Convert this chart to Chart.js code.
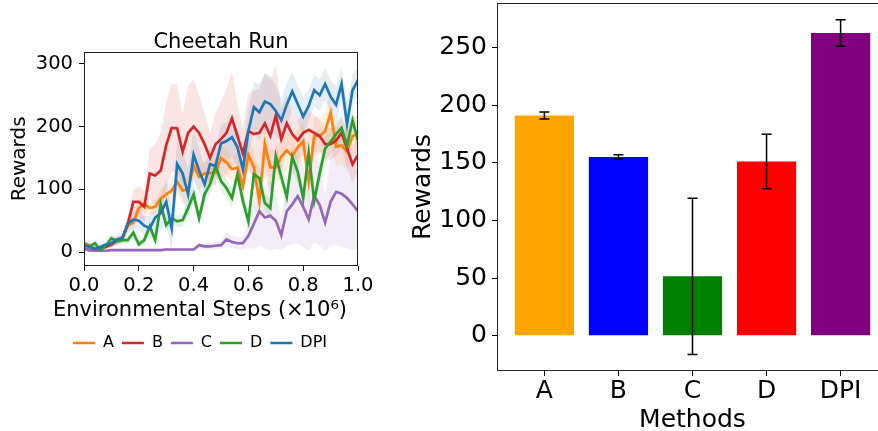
<!DOCTYPE html>
<html>
<head>
<meta charset="utf-8">
<script src="https://cdn.jsdelivr.net/npm/chart.js@4.4.1/dist/chart.umd.min.js"></script>
<style>
  html, body { margin: 0; padding: 0; background: #fff; overflow: hidden; width: 878px; height: 431px; }
  #curve { position: absolute; left: 0; top: 0; }
  #bars { position: absolute; left: 400px; top: 0; }
</style>
</head>
<body>
<canvas id="curve" width="400" height="431"></canvas>
<canvas id="bars" width="500" height="440"></canvas>
<script>
// ---- left panel: learning curves (Cheetah Run) ----
const steps = [0.00, 0.02, 0.04, 0.06, 0.08, 0.10, 0.12, 0.14, 0.16, 0.18, 0.20, 0.22, 0.24, 0.26, 0.28, 0.30, 0.32,
  0.34, 0.36, 0.38, 0.40, 0.42, 0.44, 0.46, 0.48, 0.50, 0.52, 0.54, 0.56, 0.58, 0.60, 0.62, 0.64, 0.66, 0.68, 0.70,
  0.72, 0.74, 0.76, 0.78, 0.80, 0.82, 0.84, 0.86, 0.88, 0.90, 0.92, 0.94, 0.96, 0.98, 1.00];

const meanA = [15, 10, 6, 8, 10, 12, 18, 22, 42, 47, 70, 77, 70, 72, 85, 92, 98, 112, 98, 100, 138, 120, 125, 126, 127,
  150, 143, 132, 135, 105, 155, 135, 81, 172, 135, 135, 152, 162, 153, 167, 177, 113, 185, 185, 193, 222, 168, 170, 160, 185, 188];
const stdA = [4, 3, 3, 3, 3, 4, 5, 6, 8, 10, 12, 12, 12, 12, 15, 15, 15, 20, 20, 20, 20, 20, 20, 20, 20, 20, 20, 20, 25, 25,
  25, 25, 30, 30, 30, 30, 30, 30, 30, 30, 30, 35, 30, 30, 30, 35, 30, 30, 30, 30, 30];

const meanB = [5, 3, 4, 6, 8, 12, 18, 22, 45, 80, 80, 72, 125, 122, 130, 170, 198, 197, 160, 190, 200, 190, 172, 150, 172,
  180, 190, 213, 185, 157, 193, 188, 190, 205, 185, 218, 180, 205, 188, 178, 190, 195, 190, 185, 172, 172, 178, 190, 165, 140, 155];
const stdB = [3, 3, 3, 3, 4, 5, 6, 6, 10, 20, 25, 25, 40, 50, 60, 70, 70, 70, 60, 75, 75, 60, 50, 40, 50, 60, 70, 75, 50, 40,
  60, 70, 70, 80, 90, 80, 50, 45, 35, 30, 35, 30, 30, 25, 25, 25, 25, 25, 30, 30, 25];

const meanC = [5, 3, 2, 2, 2, 3, 3, 3, 3, 3, 3, 3, 3, 3, 3, 4, 4, 4, 4, 4, 4, 11, 9, 9, 10, 11, 20, 16, 14, 14,
  26, 45, 65, 55, 58, 50, 27, 65, 76, 89, 72, 52, 90, 75, 47, 80, 96, 93, 86, 76, 65];
const stdC = [2, 2, 2, 2, 2, 2, 2, 2, 2, 2, 2, 2, 2, 2, 2, 2, 2, 2, 2, 2, 2, 5, 5, 5, 6, 6, 12, 10, 10, 10,
  20, 40, 55, 50, 55, 45, 25, 55, 65, 75, 65, 50, 75, 65, 45, 70, 85, 85, 80, 72, 62];

const meanD = [11, 9, 14, 3, 10, 22, 17, 19, 19, 31, 12, 19, 41, 19, 76, 43, 54, 49, 51, 70, 92, 54, 92, 108, 137,
  113, 102, 86, 124, 81, 49, 124, 118, 78, 70, 153, 120, 88, 152, 128, 86, 158, 82, 125, 165, 176, 188, 198, 170, 210, 178];
const stdD = [4, 4, 5, 4, 4, 6, 6, 6, 6, 8, 6, 8, 10, 8, 12, 10, 10, 10, 10, 12, 15, 12, 15, 15, 15, 15, 15, 15, 15, 15,
  15, 20, 20, 15, 15, 20, 20, 15, 20, 20, 15, 20, 15, 20, 20, 20, 20, 20, 20, 20, 20];

const meanDPI = [10, 8, 5, 8, 12, 14, 20, 22, 45, 52, 50, 42, 38, 55, 62, 80, 38, 140, 125, 92, 155, 130, 108, 140, 137,
  173, 177, 183, 167, 132, 193, 231, 223, 240, 236, 225, 210, 235, 256, 236, 216, 233, 258, 250, 268, 248, 235, 268, 204, 258, 274];
const stdDPI = [4, 4, 4, 4, 5, 6, 8, 8, 15, 15, 15, 15, 20, 25, 30, 35, 35, 40, 40, 40, 40, 35, 30, 30, 30, 30, 30, 30, 30, 35,
  35, 40, 45, 45, 45, 40, 35, 35, 30, 30, 30, 25, 25, 25, 25, 25, 30, 25, 35, 25, 20];

const curveXTicks = [0, 0.2, 0.4, 0.6, 0.8, 1.0];
const curveYTicks = [0, 100, 200, 300];

// ---- right panel: final rewards ----
const methods = ['A', 'B', 'C', 'D', 'DPI'];
const finalReward = [191, 155, 51.5, 151, 262.5];
const finalErr = [3, 2, 67.7, 23.6, 11.5];
const barYTicks = [0, 50, 100, 150, 200, 250];

const barColors = ['#ffa500', '#0000ff', '#008000', '#ff0000', '#800080'];

Chart.defaults.font.family = "'DejaVu Sans', sans-serif";
Chart.defaults.color = '#000';

function fade(hex, a) {
  const n = parseInt(hex.slice(1), 16);
  return `rgba(${n >> 16}, ${(n >> 8) & 255}, ${n & 255}, ${a})`;
}

// box around the plotting area (matplotlib spines)
const framePlugin = {
  id: 'frame',
  afterDraw(chart) {
    const a = chart.chartArea;
    const ctx = chart.ctx;
    const l = Math.round(a.left) + 0.5, t = Math.round(a.top) + 0.5;
    const r = Math.round(a.right) - 0.5, b = Math.round(a.bottom) - 0.5;
    ctx.save();
    ctx.strokeStyle = '#262626';
    ctx.lineWidth = 1;
    ctx.strokeRect(l, t, r - l, b - t);
    ctx.restore();
  }
};

// black error bars with caps, placed through the y scale
const errorBarPlugin = {
  id: 'errorBars',
  afterDatasetsDraw(chart) {
    const meta = chart.getDatasetMeta(0);
    const y = chart.scales.y;
    const ctx = chart.ctx;
    ctx.save();
    ctx.strokeStyle = '#000';
    ctx.lineWidth = 1.5;
    meta.data.forEach((bar, i) => {
      const top = y.getPixelForValue(finalReward[i] + finalErr[i]);
      const bot = y.getPixelForValue(finalReward[i] - finalErr[i]);
      ctx.beginPath();
      ctx.moveTo(bar.x, top); ctx.lineTo(bar.x, bot);
      ctx.moveTo(bar.x - 5, top); ctx.lineTo(bar.x + 5, top);
      ctx.moveTo(bar.x - 5, bot); ctx.lineTo(bar.x + 5, bot);
      ctx.stroke();
    });
    ctx.restore();
  }
};

const curveSeries = [
  { label: 'A', mean: meanA, std: stdA, color: '#ff7f0e' },
  { label: 'B', mean: meanB, std: stdB, color: '#d62728' },
  { label: 'C', mean: meanC, std: stdC, color: '#9467bd' },
  { label: 'D', mean: meanD, std: stdD, color: '#2ca02c' },
  { label: 'DPI', mean: meanDPI, std: stdDPI, color: '#1f77b4' }
];

const lineSets = curveSeries.map((s, k) => ({
  label: s.label,
  data: steps.map((x, i) => ({ x: x, y: s.mean[i] })),
  borderColor: s.color,
  backgroundColor: s.color,
  borderWidth: 2.7,
  pointRadius: 0,
  tension: 0,
  fill: false,
  order: curveSeries.length - k
}));

const bandSets = [];
curveSeries.forEach(s => {
  bandSets.push({
    label: s.label + ' hi',
    data: steps.map((x, i) => ({ x: x, y: s.mean[i] + s.std[i] })),
    borderWidth: 0, pointRadius: 0,
    backgroundColor: fade(s.color, 0.12),
    fill: '+1', order: 20
  });
  bandSets.push({
    label: s.label + ' lo',
    data: steps.map((x, i) => ({ x: x, y: s.mean[i] - s.std[i] })),
    borderWidth: 0, pointRadius: 0,
    fill: false, order: 20
  });
});

const tickGrid = { display: true, drawOnChartArea: false, drawTicks: true, tickLength: 5, color: '#000' };

new Chart(document.getElementById('curve'), {
  type: 'line',
  data: { datasets: lineSets.concat(bandSets) },
  options: {
    responsive: false,
    animation: false,
    layout: { padding: { top: 0, left: 0, right: 0, bottom: 70 } },
    plugins: {
      title: {
        display: true, text: 'Cheetah Run', fullSize: false,
        font: { size: 21, weight: 'normal' }, color: '#000',
        padding: { top: 30, bottom: -3.2 }
      },
      legend: {
        position: 'bottom',
        // the x axis label sits in the legend title so it can be wider than the axis
        title: {
          display: true, text: 'Environmental Steps (×10⁶)',
          font: { size: 21 }, color: '#000', padding: { top: 2, bottom: 2 }
        },
        labels: {
          filter: item => item.datasetIndex < curveSeries.length,
          sort: (a, b) => a.datasetIndex - b.datasetIndex,
          usePointStyle: true, pointStyle: 'line', pointStyleWidth: 22,
          font: { size: 16 }, padding: 8, color: '#000'
        }
      },
      tooltip: { enabled: false }
    },
    scales: {
      x: {
        type: 'linear', min: 0, max: 1,
        afterBuildTicks: s => { s.ticks = curveXTicks.map(v => ({ value: v })); },
        afterFit: s => { s.height = 32; },
        ticks: { callback: v => v.toFixed(1), font: { size: 19.5 }, color: '#000', padding: 3, maxRotation: 0, autoSkip: false },
        grid: tickGrid,
        border: { display: false }
      },
      y: {
        min: -22, max: 319,
        afterBuildTicks: s => { s.ticks = curveYTicks.map(v => ({ value: v })); },
        afterFit: s => { s.width = 84; },
        ticks: { font: { size: 19.5 }, color: '#000', padding: 6 },
        grid: tickGrid,
        border: { display: false },
        title: { display: true, text: 'Rewards', font: { size: 20 }, color: '#000', padding: { top: 8, bottom: 0 } }
      },
      yRight: {
        position: 'right', display: true,
        afterFit: s => { s.width = 42; },
        ticks: { display: false },
        grid: { display: false },
        border: { display: false }
      }
    }
  },
  plugins: [framePlugin]
});

new Chart(document.getElementById('bars'), {
  type: 'bar',
  data: {
    datasets: [{
      data: methods.map((m, i) => ({ x: i, y: finalReward[i] })),
      backgroundColor: barColors,
      borderWidth: 0,
      barPercentage: 0.8,
      categoryPercentage: 1.0
    }]
  },
  options: {
    responsive: false,
    animation: false,
    layout: { padding: { top: 3, left: 0, right: 12, bottom: 0 } },
    plugins: { legend: { display: false }, tooltip: { enabled: false } },
    scales: {
      x: {
        type: 'linear', min: -0.64, max: 4.64, offset: false,
        afterBuildTicks: s => { s.ticks = methods.map((m, i) => ({ value: i })); },
        afterFit: s => { s.height = 69; },
        ticks: { callback: v => methods[v], font: { size: 25 }, color: '#000', padding: 0, maxRotation: 0, autoSkip: false },
        grid: Object.assign({}, tickGrid, { offset: false }),
        border: { display: false },
        title: { display: true, text: 'Methods', font: { size: 25 }, color: '#000', padding: { top: 0, bottom: 5 } }
      },
      y: {
        min: -30.6, max: 288.5,
        afterBuildTicks: s => { s.ticks = barYTicks.map(v => ({ value: v })); },
        afterFit: s => { s.width = 97; s.paddingTop = 0; s.paddingBottom = 0; },
        ticks: { font: { size: 25 }, color: '#000', padding: 5 },
        grid: tickGrid,
        border: { display: false },
        title: { display: true, text: 'Rewards', font: { size: 25 }, color: '#000', padding: { top: 8, bottom: 0 } }
      }
    }
  },
  plugins: [errorBarPlugin, framePlugin]
});
</script>
</body>
</html>
